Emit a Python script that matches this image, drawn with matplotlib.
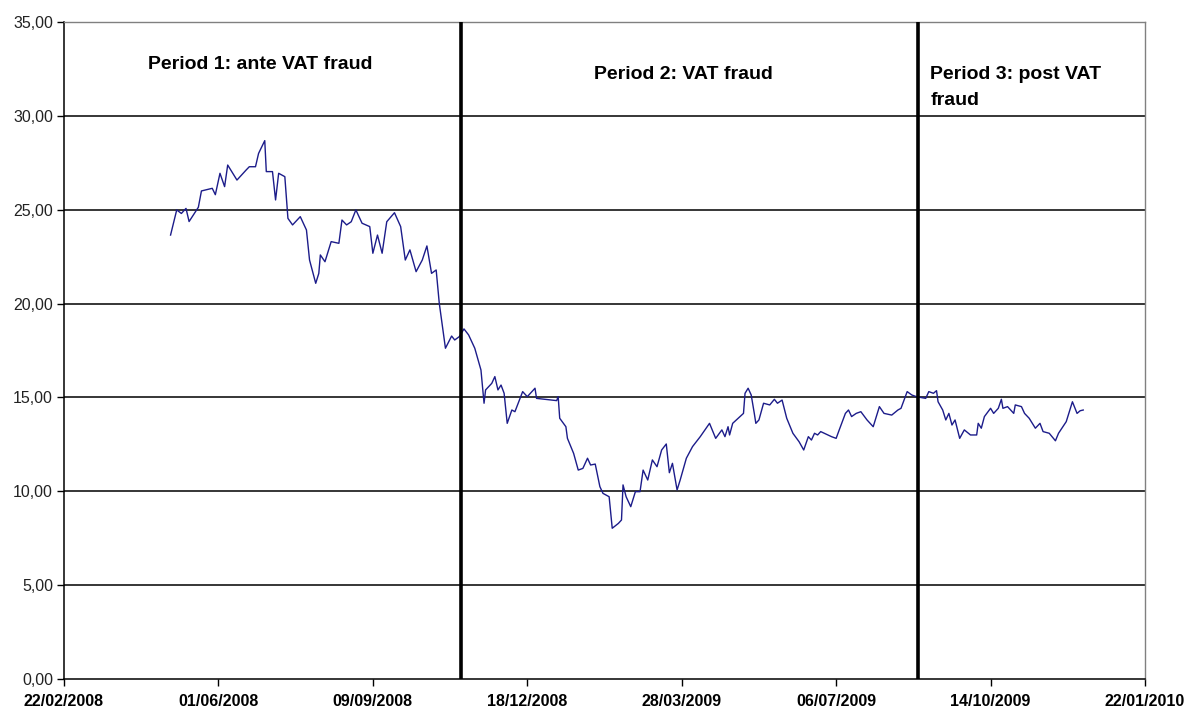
import matplotlib
matplotlib.use("Agg")
import matplotlib.pyplot as plt
import matplotlib.dates as mdates
from matplotlib.ticker import FuncFormatter
import datetime as dt

start_date = dt.date(2008, 2, 22)
end_date = dt.date(2010, 1, 22)

# days since 22/02/2008 and price values
day_offsets = [69, 73, 76, 79, 81, 87, 89, 96, 98, 101, 104, 106, 112, 118, 120, 124, 126, 130, 131,
               135, 137, 139, 143, 145, 148, 153, 157, 159, 163, 165, 166, 169, 173, 178, 180, 183,
               186, 189, 193, 198, 200, 203, 206, 209, 214, 218, 221, 224, 228, 232, 235, 238, 241,
               243, 247, 251, 253, 256, 259, 262, 266, 270, 272, 273, 277, 279, 281, 283, 285, 287,
               290, 292, 297, 300, 305, 306, 319, 320, 321, 325, 326, 330, 333, 336, 339, 341, 344,
               347, 349, 353, 355, 359, 361, 362, 364, 367, 370, 373, 375, 378, 381, 384, 387, 390,
               392, 394, 397, 399, 403, 407, 412, 418, 422, 426, 428, 430, 431, 433, 440, 441, 443,
               445, 447, 448, 450, 453, 457, 460, 462, 465, 468, 472, 476, 479, 482, 484, 486, 488,
               490, 497, 500, 502, 506, 508, 510, 513, 516, 520, 524, 526, 528, 531, 536, 540, 542,
               546, 549, 552, 558, 560, 563, 565, 566, 569, 571, 573, 575, 577, 580, 583, 587, 591,
               592, 594, 596, 600, 602, 605, 607, 608, 611, 615, 616, 620, 622, 625, 629, 632, 634,
               638, 642, 644, 649, 652, 653, 656, 658, 660]
prices = [23.65, 24.99, 24.80, 25.07, 24.37, 25.13, 26.00, 26.14, 25.80, 26.94, 26.23, 27.38, 26.58,
          27.12, 27.29, 27.29, 28.00, 28.68, 27.03, 27.03, 25.52, 26.94, 26.76, 24.54, 24.19, 24.63,
          23.92, 22.32, 21.08, 21.61, 22.59, 22.23, 23.30, 23.21, 24.45, 24.19, 24.36, 24.99, 24.28,
          24.10, 22.68, 23.65, 22.68, 24.36, 24.84, 24.10, 22.32, 22.86, 21.70, 22.32, 23.07, 21.61,
          21.79, 20.02, 17.62, 18.27, 18.06, 18.24, 18.65, 18.33, 17.62, 16.46, 14.69, 15.40, 15.75,
          16.11, 15.40, 15.66, 15.22, 13.62, 14.33, 14.24, 15.31, 15.04, 15.49, 14.95, 14.83, 15.04,
          13.89, 13.44, 12.82, 12.02, 11.13, 11.22, 11.76, 11.40, 11.45, 10.25, 9.89, 9.71, 8.03,
          8.29, 8.47, 10.34, 9.71, 9.18, 9.98, 9.98, 11.13, 10.60, 11.67, 11.31, 12.20, 12.52, 10.99,
          11.49, 10.07, 10.60, 11.76, 12.38, 12.91, 13.62, 12.82, 13.27, 12.91, 13.44, 13.00, 13.62,
          14.15, 15.22, 15.49, 15.13, 14.15, 13.62, 13.80, 14.69, 14.60, 14.90, 14.69, 14.86, 13.89,
          13.09, 12.64, 12.20, 12.91, 12.73, 13.09, 13.00, 13.18, 12.91, 12.82, 13.27, 14.15, 14.33,
          13.98, 14.15, 14.24, 13.80, 13.44, 13.98, 14.51, 14.15, 14.06, 14.33, 14.42, 15.31, 15.13,
          15.04, 14.95, 15.31, 15.22, 15.36, 14.77, 14.33, 13.80, 14.15, 13.53, 13.80, 12.82, 13.27,
          13.00, 13.00, 13.62, 13.36, 13.98, 14.42, 14.15, 14.42, 14.90, 14.42, 14.51, 14.15, 14.60,
          14.51, 14.15, 13.89, 13.36, 13.62, 13.18, 13.09, 12.69, 13.09, 13.71, 14.51, 14.77, 14.15,
          14.29, 14.33]

period_break_offsets = [257, 553]
period_labels = ["Period 1: ante VAT fraud", "Period 2: VAT fraud", "Period 3: post VAT\nfraud"]
y_ticks = [0, 5, 10, 15, 20, 25, 30, 35]
x_tick_step_days = 100

dates = [start_date + dt.timedelta(days=d) for d in day_offsets]
breaks = [start_date + dt.timedelta(days=d) for d in period_break_offsets]

plt.rcParams['font.family'] = ['Liberation Sans', 'DejaVu Sans']

fig = plt.figure(figsize=(11.86, 7.11), dpi=100)
ax = fig.add_axes([64/1186, 1 - 679/711, (1145 - 64)/1186, (679 - 22)/711])

ax.set_xlim(start_date, end_date)
ax.set_ylim(0, 35)

for yv in y_ticks[1:-1]:
    ax.axhline(yv, color='black', lw=1.1, zorder=1)

ax.plot(dates, prices, color='#1c1c8a', lw=1.0, zorder=3)

for b in breaks:
    ax.axvline(b, color='black', lw=2.6, zorder=4)

xticks = [start_date + dt.timedelta(days=i) for i in range(0, 701, x_tick_step_days)]
ax.set_xticks(xticks)
ax.xaxis.set_major_formatter(mdates.DateFormatter('%d/%m/%Y'))
ax.set_yticks(y_ticks)
ax.yaxis.set_major_formatter(FuncFormatter(lambda v, p: f"{v:.2f}".replace('.', ',')))

ax.tick_params(axis='x', direction='out', length=5, width=1, pad=6, labelsize=11.5)
ax.tick_params(axis='y', direction='out', length=5, width=1, pad=3, labelsize=11.5)
for lbl in ax.get_xticklabels():
    lbl.set_fontweight('bold')
for lbl in ax.get_yticklabels():
    lbl.set_color('#222222')

ax.spines['left'].set_color('black')
ax.spines['bottom'].set_color('black')
ax.spines['left'].set_linewidth(1.1)
ax.spines['bottom'].set_linewidth(1.1)
ax.spines['top'].set_color('#808080')
ax.spines['right'].set_color('#808080')
ax.spines['top'].set_linewidth(1.0)
ax.spines['right'].set_linewidth(1.0)

ax.text(start_date + dt.timedelta(days=127), 32.75, period_labels[0], fontsize=14,
        fontweight='bold', ha='center', va='center')
ax.text(start_date + dt.timedelta(days=401), 32.2, period_labels[1], fontsize=14,
        fontweight='bold', ha='center', va='center')
ax.text(start_date + dt.timedelta(days=561), 32.65, period_labels[2], fontsize=14,
        fontweight='bold', ha='left', va='top', linespacing=1.68, multialignment='left')

fig.savefig('out.png', dpi=100)
